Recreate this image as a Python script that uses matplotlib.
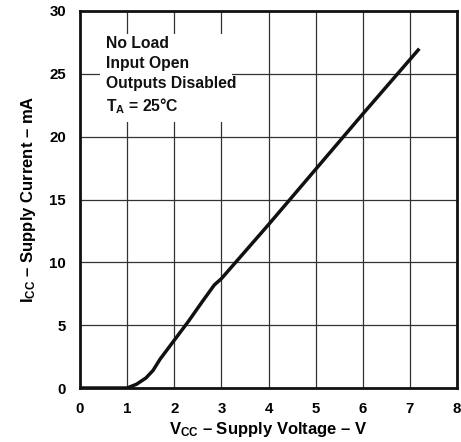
import matplotlib
matplotlib.use("Agg")
import matplotlib.pyplot as plt
from matplotlib.patches import Rectangle

plt.rcParams['font.family'] = ['Liberation Sans', 'DejaVu Sans']
plt.rcParams['font.weight'] = 'bold'
plt.rcParams['mathtext.fontset'] = 'custom'
plt.rcParams['mathtext.rm'] = 'Liberation Sans:bold'
plt.rcParams['mathtext.bf'] = 'Liberation Sans:bold'
plt.rcParams['mathtext.it'] = 'Liberation Sans:bold'

# Data
vcc = [0, 1.0, 1.2, 1.4, 1.55, 1.7, 2.0, 2.3, 2.6, 2.85, 3.0, 4.0, 5.0, 6.0, 7.2]
icc = [0, 0, 0.3, 0.8, 1.4, 2.3, 3.8, 5.3, 6.9, 8.2, 8.7, 13.0, 17.4, 21.8, 27.0]
x_ticks = [0, 1, 2, 3, 4, 5, 6, 7, 8]
y_ticks = [0, 5, 10, 15, 20, 25, 30]

fig = plt.figure(figsize=(4.61, 4.42), dpi=100)
ax = fig.add_axes([80/461, 1-388/442, (457-80)/461, (388-11)/442])

ax.set_xlim(0, 8)
ax.set_ylim(0, 30)
ax.set_xticks(x_ticks)
ax.set_yticks(y_ticks)
ax.tick_params(length=0, pad=10, labelsize=10.8)
for lab in ax.get_xticklabels() + ax.get_yticklabels():
    lab.set_fontweight('bold')

ax.grid(True, color='#333333', linewidth=0.9, zorder=1)
ax.set_axisbelow(True)
for s in ax.spines.values():
    s.set_linewidth(2.0)
    s.set_color('#111111')
    s.set_zorder(5)

# white box behind the annotation text
ax.add_patch(Rectangle((0.42, 21.2), 2.8, 7.0, facecolor='white', edgecolor='none', zorder=2))

ax.plot(vcc, icc, color='#111111', linewidth=2.5, zorder=4, solid_capstyle='butt')

ax.text(0.56, 28.0, "No Load\nInput Open\nOutputs Disabled\n" + r"T$_{\mathbf{A}}$ = 25°C",
        fontsize=11.3, fontweight='bold', va='top', ha='left', linespacing=1.4,
        zorder=3, color='#111111')

ax.set_xlabel(r"V$_{\mathbf{CC}}$ – Supply Voltage – V", fontsize=12, fontweight='bold', labelpad=3)
ax.set_ylabel(r"I$_{\mathbf{CC}}$ – Supply Current – mA", fontsize=12, fontweight='bold', labelpad=8)

fig.savefig("out.png", dpi=100)
